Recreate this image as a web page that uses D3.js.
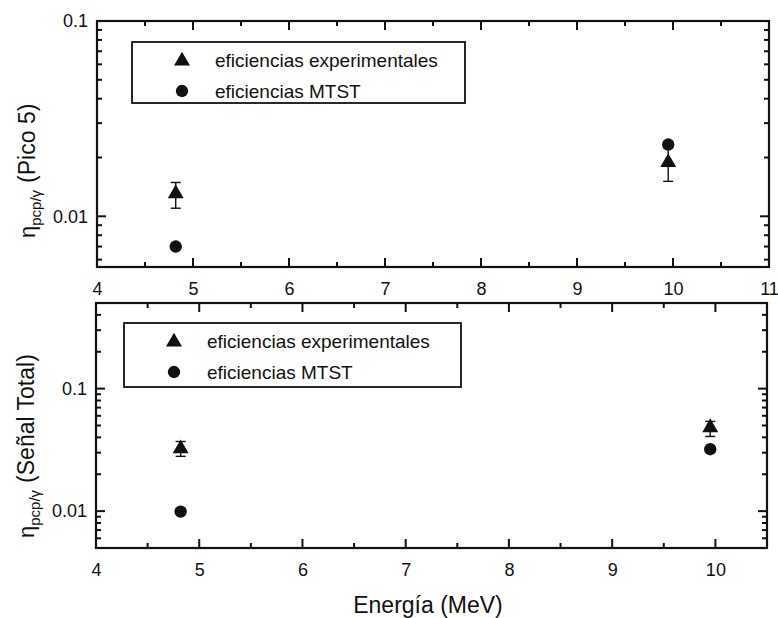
<!DOCTYPE html>
<html>
<head>
<meta charset="utf-8">
<script src="https://cdn.jsdelivr.net/npm/d3@7"></script>
<style>
  body { margin: 0; background: #fff; }
  svg text { font-family: "Liberation Sans", Arial, sans-serif; fill: #111; }
</style>
</head>
<body>
<svg id="chart" width="778" height="618"></svg>
<script>
// data
const energies = [4.82, 9.95];

// top panel: Pico 5
const picoExp = [0.0132, 0.0191];
const picoExpLo = [0.011, 0.0151];
const picoExpHi = [0.0149, 0.0225];
const picoMtst = [0.007, 0.0233];

// bottom panel: Señal Total
const totalExp = [0.033, 0.049];
const totalExpLo = [0.028, 0.0407];
const totalExpHi = [0.037, 0.054];
const totalMtst = [0.0099, 0.032];

const legendLabels = ["eficiencias experimentales", "eficiencias MTST"];
const xLabel = "Energía  (MeV)";

const svg = d3.select("#chart");

function logTicks(lo, hi) {
  const out = [];
  for (let e = -4; e <= 1; e++) {
    for (let m = 1; m <= 9; m++) {
      const v = m * Math.pow(10, e);
      if (v >= lo * 0.999 && v <= hi * 1.001) out.push(v);
    }
  }
  return out;
}

function drawPanel(p) {
  const x = d3.scaleLinear().domain(p.xDomain).range([p.left, p.right]);
  const y = d3.scaleLog().domain(p.yDomain).range([p.bottom, p.top]);
  const g = svg.append("g");

  const xMajor = d3.range(p.xDomain[0], p.xDomain[1] + 0.001, 1);
  const xMinor = d3.range(p.xDomain[0] + 0.5, p.xDomain[1] + 0.001, 1);
  const yAll = logTicks(p.yDomain[0], p.yDomain[1]);
  const yMajor = yAll.filter(v => Math.abs(Math.log10(v) - Math.round(Math.log10(v))) < 1e-6);
  const yMinor = yAll.filter(v => !yMajor.includes(v));

  const fmt = d => String(+d.toPrecision(1));

  // labels from d3 axes
  const ax = g.append("g").attr("transform", `translate(0,${p.bottom})`)
    .call(d3.axisBottom(x).tickValues(xMajor).tickSize(0).tickPadding(15).tickFormat(d3.format("d")));
  const ay = g.append("g").attr("transform", `translate(${p.left},0)`)
    .call(d3.axisLeft(y).tickValues(yMajor).tickSize(0).tickPadding(9).tickFormat(fmt));
  [ax, ay].forEach(a => {
    a.select(".domain").remove();
    a.selectAll(".tick text").attr("font-size", 18).attr("fill", "#111");
  });

  // inward ticks on all four sides
  const tk = g.append("g").attr("stroke", "#111").attr("stroke-width", 2);
  const xt = xMajor.map(v => [v, 9]).concat(xMinor.map(v => [v, 5]));
  const yt = yMajor.map(v => [v, 9]).concat(yMinor.map(v => [v, 5]));
  [p.bottom, p.top].forEach((pos, s) => {
    tk.selectAll(null).data(xt).join("line")
      .attr("x1", d => x(d[0])).attr("x2", d => x(d[0]))
      .attr("y1", pos).attr("y2", d => s === 0 ? pos - d[1] : pos + d[1]);
  });
  [p.left, p.right].forEach((pos, s) => {
    tk.selectAll(null).data(yt).join("line")
      .attr("y1", d => y(d[0])).attr("y2", d => y(d[0]))
      .attr("x1", pos).attr("x2", d => s === 0 ? pos + d[1] : pos - d[1]);
  });

  // frame
  g.append("rect")
    .attr("x", x.range()[0]).attr("y", y.range()[1])
    .attr("width", x.range()[1] - x.range()[0]).attr("height", y.range()[0] - y.range()[1])
    .attr("fill", "none").attr("stroke", "#111").attr("stroke-width", 2.2);

  // error bars
  const eg = g.append("g").attr("stroke", "#111").attr("stroke-width", 1.4);
  energies.forEach((e, i) => {
    const cx = x(e);
    eg.append("line").attr("x1", cx).attr("x2", cx)
      .attr("y1", y(p.lo[i])).attr("y2", y(p.hi[i]));
    [p.lo[i], p.hi[i]].forEach(v => {
      eg.append("line").attr("x1", cx - 5).attr("x2", cx + 5)
        .attr("y1", y(v)).attr("y2", y(v));
    });
  });

  const tri = d3.symbol(d3.symbolTriangle, 110);
  const circ = d3.symbol(d3.symbolCircle, 120);

  g.selectAll("path.exp").data(energies).join("path")
    .attr("class", "exp")
    .attr("d", tri)
    .attr("transform", (d, i) => `translate(${x(d)},${y(p.exp[i]) + 1})`)
    .attr("fill", "#111");

  g.selectAll("path.mtst").data(energies).join("path")
    .attr("class", "mtst")
    .attr("d", circ)
    .attr("transform", (d, i) => `translate(${x(d)},${y(p.mtst[i])})`)
    .attr("fill", "#111");

  // legend
  const L = p.legend;
  g.append("rect").attr("x", L.x).attr("y", L.y).attr("width", L.w).attr("height", L.h)
    .attr("fill", "none").attr("stroke", "#111").attr("stroke-width", 1.8);
  legendLabels.forEach((t, i) => {
    const ly = L.y + 18 + i * 31;
    g.append("path").attr("d", i === 0 ? tri : circ)
      .attr("transform", `translate(${L.x + 50},${ly + (i === 0 ? 1 : 0)})`)
      .attr("fill", "#111");
    g.append("text").attr("x", L.x + 83).attr("y", ly + 7)
      .attr("font-size", 19).text(t);
  });

  // y title
  const title = g.append("text")
    .attr("transform", `translate(${p.titleX},${p.titleY}) rotate(-90)`)
    .attr("text-anchor", "start");
  title.append("tspan").attr("font-size", 22).text("η");
  title.append("tspan").attr("font-size", 15).attr("dy", 6).text("pcp/γ");
  title.append("tspan").attr("font-size", 23).attr("dy", -6).attr("dx", 7).text(p.title);
}

drawPanel({
  xDomain: [4, 11], yDomain: [0.0055, 0.1],
  left: 97, right: 769, top: 21, bottom: 267,
  exp: picoExp, lo: picoExpLo, hi: picoExpHi, mtst: picoMtst,
  legend: { x: 132, y: 42, w: 333, h: 61 },
  title: "(Pico 5)", titleX: 35, titleY: 238
});

drawPanel({
  xDomain: [4, 10.5], yDomain: [0.005, 0.5],
  left: 96, right: 767, top: 303, bottom: 548,
  exp: totalExp, lo: totalExpLo, hi: totalExpHi, mtst: totalMtst,
  legend: { x: 124, y: 323, w: 337, h: 64 },
  title: "(Señal Total)", titleX: 34, titleY: 538
});

svg.append("text")
  .attr("x", 428).attr("y", 613)
  .attr("text-anchor", "middle")
  .attr("font-size", 23)
  .text(xLabel);
</script>
</body>
</html>
